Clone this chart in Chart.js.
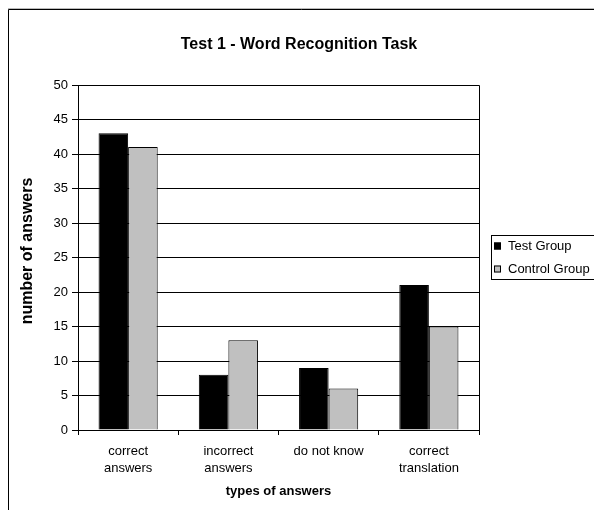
<!DOCTYPE html>
<html>
<head>
<meta charset="utf-8">
<script src="https://cdn.jsdelivr.net/npm/chart.js@4"></script>
<style>
  html, body { margin: 0; padding: 0; background: #fff; }
  #wrap { width: 594px; height: 510px; }
</style>
</head>
<body>
<div id="wrap"><canvas id="c" width="594" height="510"></canvas></div>
<script>
const categories = [["correct", "answers"], ["incorrect", "answers"], ["do not know"], ["correct", "translation"]];
const testGroup = [43, 8, 9, 21];
const controlGroup = [41, 13, 6, 15];
const seriesNames = ["Test Group", "Control Group"];
const yTicks = [0, 5, 10, 15, 20, 25, 30, 35, 40, 45, 50];

const FONT = "'Liberation Sans', Arial, sans-serif";

// Frame, titles, plot border and legend box drawn around the Chart.js plot
const decorations = {
  id: 'decorations',
  beforeDraw(chart) {
    const ctx = chart.ctx;
    ctx.save();
    ctx.fillStyle = '#fff';
    ctx.fillRect(0, 0, chart.width, chart.height);
    // outer frame
    ctx.strokeStyle = '#bbb';
    ctx.lineWidth = 1;
    ctx.beginPath();
    ctx.moveTo(8, 8.5); ctx.lineTo(594, 8.5);
    ctx.stroke();
    ctx.strokeStyle = '#000';
    ctx.beginPath();
    ctx.moveTo(8.5, 510); ctx.lineTo(8.5, 9.5); ctx.lineTo(594, 9.5);
    ctx.stroke();
    ctx.restore();
  },
  afterDraw(chart) {
    const ctx = chart.ctx;
    const a = chart.chartArea;
    ctx.save();
    // plot border (top and right)
    ctx.strokeStyle = '#000';
    ctx.lineWidth = 1;
    ctx.beginPath();
    ctx.moveTo(Math.round(a.left) + 0.5, Math.round(a.top) + 0.5);
    ctx.lineTo(Math.round(a.right) + 0.5, Math.round(a.top) + 0.5);
    ctx.lineTo(Math.round(a.right) + 0.5, Math.round(a.bottom) + 0.5);
    ctx.stroke();

    // chart title
    ctx.fillStyle = '#000';
    ctx.textAlign = 'center';
    ctx.textBaseline = 'middle';
    ctx.font = 'bold 16px ' + FONT;
    ctx.fillText('Test 1 - Word Recognition Task', 299, 45);

    // axis titles
    ctx.font = 'bold 13px ' + FONT;
    ctx.fillText('types of answers', (a.left + a.right) / 2, 491);
    ctx.save();
    ctx.translate(28, 251);
    ctx.rotate(-Math.PI / 2);
    ctx.font = 'bold 16px ' + FONT;
    ctx.fillText('number of answers', 0, 0);
    ctx.restore();

    // legend
    ctx.strokeStyle = '#000';
    ctx.strokeRect(491.5, 235.5, 120, 44);
    ctx.font = '13px ' + FONT;
    ctx.textAlign = 'left';
    chart.data.datasets.forEach((ds, i) => {
      const cy = 246 + i * 23;
      ctx.fillStyle = ds.backgroundColor;
      ctx.fillRect(494, cy - 3.5, 7, 7);
      ctx.strokeRect(494.5, cy - 3, 6, 6);
      ctx.fillStyle = '#000';
      ctx.fillText(ds.label, 508, cy);
    });
    ctx.restore();
  }
};

new Chart(document.getElementById('c'), {
  type: 'bar',
  data: {
    labels: categories,
    datasets: [
      { label: seriesNames[0], data: testGroup, backgroundColor: '#000000', borderColor: '#000', borderWidth: 1 },
      { label: seriesNames[1], data: controlGroup, backgroundColor: '#c0c0c0', borderColor: '#000', borderWidth: 1 }
    ]
  },
  options: {
    responsive: false,
    animation: false,
    devicePixelRatio: 1,
    layout: { padding: { top: 85, right: 115, left: 0, bottom: 0 } },
    plugins: { legend: { display: false }, title: { display: false }, tooltip: { enabled: false } },
    datasets: { bar: { categoryPercentage: 0.59, barPercentage: 1.0 } },
    scales: {
      x: {
        offset: true,
        grid: { offset: true, drawOnChartArea: false, color: '#000', tickLength: 5, tickColor: '#000' },
        border: { color: '#000', width: 1 },
        ticks: { color: '#000', font: { family: FONT, size: 13, lineHeight: 1.3 }, padding: 8, maxRotation: 0, autoSkip: false },
        afterFit(s) { s.height = 80; }
      },
      y: {
        min: 0, max: 50,
        afterBuildTicks(s) { s.ticks = yTicks.map(v => ({ value: v })); },
        grid: { color: '#000', tickLength: 6, tickColor: '#000' },
        border: { color: '#000', width: 1 },
        ticks: { color: '#000', font: { family: FONT, size: 13 }, padding: 4 },
        afterFit(s) { s.width = 78; }
      }
    }
  },
  plugins: [decorations]
});
</script>
</body>
</html>
